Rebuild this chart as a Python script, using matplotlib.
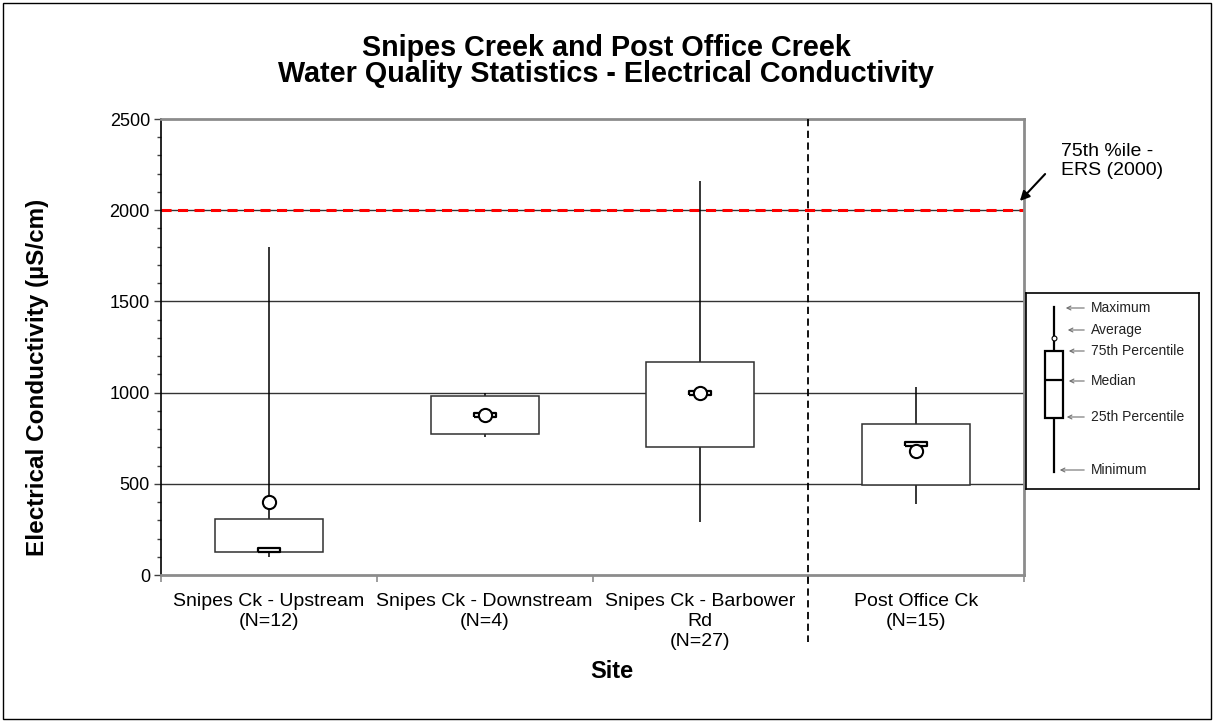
import matplotlib
matplotlib.use("Agg")
import matplotlib.pyplot as plt
import numpy as np
from matplotlib.patches import Rectangle, FancyArrowPatch

plt.rcParams['font.family'] = ['Liberation Sans', 'DejaVu Sans']

sites = ["Snipes Ck - Upstream\n(N=12)", "Snipes Ck - Downstream\n(N=4)",
         "Snipes Ck - Barbower\nRd\n(N=27)", "Post Office Ck\n(N=15)"]
v_min = [100, 758, 289, 388]
v_q1 = [126, 773, 702, 493]
v_median = [138, 877, 999, 716]
v_q3 = [305, 983, 1166, 829]
v_max = [1800, 996, 2160, 1029]
v_mean = [400, 877, 999, 680]
guideline = 2000
y_ticks = [0, 500, 1000, 1500, 2000, 2500]

W, H = 1214, 722
fig = plt.figure(figsize=(W / 100, H / 100), dpi=100)

def fx(px):
    return px / W

def fy(py):
    return 1 - py / H

# outer border
fig.patches.append(Rectangle((fx(3), fy(719)), fx(1208), 716 / H,
                             transform=fig.transFigure, fill=False, edgecolor='black', lw=1))

ax = fig.add_axes([fx(161), fy(575), fx(1024) - fx(161), fy(119) - fy(575)])
x = np.arange(1, len(sites) + 1)

ax.set_xlim(0.5, len(sites) + 0.5)
ax.set_ylim(0, 2500)

# gridlines
for t in y_ticks[1:-1]:
    ax.axhline(t, color='#333333', lw=1, zorder=1)

# guideline
ax.axhline(guideline, color='red', lw=2.2, ls=(0, (3.3, 2.1)), zorder=2)

# whiskers
ax.vlines(x, v_min, v_max, color='black', lw=1.1, zorder=3)
# boxes
ax.bar(x, np.array(v_q3) - np.array(v_q1), bottom=v_q1, width=0.5,
       facecolor='white', edgecolor='#303030', lw=1.1, zorder=4)
# median markers
rect_marker = [(-1, -0.2), (1, -0.2), (1, 0.2), (-1, 0.2), (-1, -0.2)]
ax.plot(x, v_median, ls='none', marker=rect_marker, ms=16, mfc='white',
        mec='black', mew=1.6, zorder=5)
# mean markers
ax.plot(x, v_mean, ls='none', marker='o', ms=9.5, mfc='white', mec='black',
        mew=1.5, zorder=6)

# separator line
ax.plot([3.5, 3.5], [1.0, -0.148], transform=ax.get_xaxis_transform(),
        color='black', lw=1.3, ls=(0, (4, 2.5)), clip_on=False, zorder=7)

# spines
for s in ['top', 'right', 'bottom']:
    ax.spines[s].set_color('#8c8c8c')
    ax.spines[s].set_linewidth(2)
ax.spines['left'].set_color('black')
ax.spines['left'].set_linewidth(1.2)

ax.set_yticks(y_ticks)
ax.set_yticks(np.arange(0, 2501, 100), minor=True)
ax.tick_params(axis='y', which='major', direction='out', length=5, width=1,
               labelsize=13, pad=3, color='#404040')
ax.tick_params(axis='y', which='minor', direction='out', length=3, width=1, color='#404040')

ax.set_xticks(x)
ax.set_xticklabels(sites, fontsize=14, linespacing=1.22)
ax.set_xticks(np.arange(0.5, len(sites) + 1, 1), minor=True)
ax.tick_params(axis='x', which='major', length=0, pad=13)
ax.tick_params(axis='x', which='minor', length=5, width=1.2, color='#8c8c8c', direction='out')

fig.text(fx(38), fy(377), "Electrical Conductivity (µS/cm)", fontsize=17.5, fontweight='bold',
         ha='center', va='center', rotation=90)
fig.text(fx(612), fy(672), "Site", fontsize=17, fontweight='bold', ha='center', va='center')

fig.text(fx(606), fy(56), "Snipes Creek and Post Office Creek", fontsize=20.7,
         fontweight='bold', ha='center', va='baseline')
fig.text(fx(606), fy(82), "Water Quality Statistics - Electrical Conductivity", fontsize=20.7,
         fontweight='bold', ha='center', va='baseline')

# guideline annotation
fig.text(fx(1061), fy(161), "75th %ile -\nERS (2000)", fontsize=14, ha='left', va='center',
         linespacing=1.15)
fig.patches.append(FancyArrowPatch((fx(1047), fy(172)), (fx(1018), fy(203)),
                                   transform=fig.transFigure, arrowstyle='-|>',
                                   mutation_scale=14, color='black', lw=1.5))

# legend schematic
lax = fig.add_axes([fx(1026), fy(489), fx(1199) - fx(1026), fy(293) - fy(489)])
lax.set_xlim(1026, 1199)
lax.set_ylim(489, 293)
lax.set_xticks([])
lax.set_yticks([])
for s in lax.spines.values():
    s.set_color('black')
    s.set_linewidth(1.2)
lax.plot([1054, 1054], [307, 472], color='black', lw=1.6, zorder=1)
lax.add_patch(Rectangle((1045, 351), 18, 67, facecolor='white', edgecolor='black', lw=1.6, zorder=2))
lax.plot([1047, 1061], [380, 380], color='black', lw=1.6, zorder=3)
lax.plot([1054], [338], marker='o', ms=3.5, mfc='white', mec='black', mew=0.8, zorder=3)
items = [("Maximum", 308, 1063), ("Average", 330, 1065), ("75th Percentile", 351, 1066),
         ("Median", 381, 1066), ("25th Percentile", 417, 1064), ("Minimum", 470, 1057)]
for lbl, yy, xa in items:
    lax.annotate("", xy=(xa, yy), xytext=(1087, yy),
                 arrowprops=dict(arrowstyle='->', color='#707070', lw=0.8, mutation_scale=7))
    lax.text(1091, yy, lbl, fontsize=10, ha='left', va='center', color='#222222')

fig.savefig("out.png", dpi=100)
